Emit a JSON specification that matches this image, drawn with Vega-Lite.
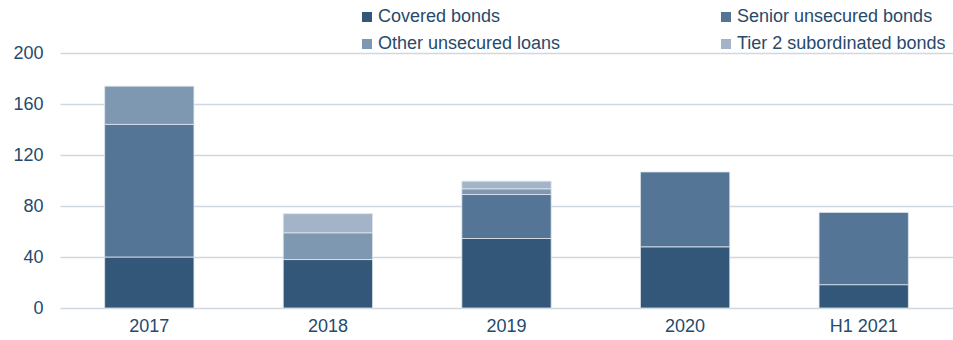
{
  "$schema": "https://vega.github.io/schema/vega-lite/v6.json",
  "width": 893,
  "height": 255,
  "autosize": {"type": "none"},
  "padding": {"left": 60, "top": 53, "right": 0, "bottom": 32},
  "background": "white",
  "config": {
    "view": {"stroke": null},
    "font": "Liberation Sans",
    "axis": {"labelFont": "Liberation Sans", "labelFontSize": 18, "labelColor": "#264a6b"},
    "legend": {"labelFont": "Liberation Sans", "labelFontSize": 18, "labelColor": "#264a6b"}
  },
  "data": {
    "values": [
      {"period": "2017", "type": "Covered bonds", "k": 1, "value": 40},
      {"period": "2017", "type": "Senior unsecured bonds", "k": 2, "value": 104},
      {"period": "2017", "type": "Other unsecured loans", "k": 3, "value": 30},
      {"period": "2018", "type": "Covered bonds", "k": 1, "value": 38},
      {"period": "2018", "type": "Other unsecured loans", "k": 3, "value": 21},
      {"period": "2018", "type": "Tier 2 subordinated bonds", "k": 4, "value": 15},
      {"period": "2019", "type": "Covered bonds", "k": 1, "value": 54.5},
      {"period": "2019", "type": "Senior unsecured bonds", "k": 2, "value": 34.5},
      {"period": "2019", "type": "Other unsecured loans", "k": 3, "value": 4.5},
      {"period": "2019", "type": "Tier 2 subordinated bonds", "k": 4, "value": 6},
      {"period": "2020", "type": "Covered bonds", "k": 1, "value": 48},
      {"period": "2020", "type": "Senior unsecured bonds", "k": 2, "value": 58.7},
      {"period": "H1 2021", "type": "Covered bonds", "k": 1, "value": 18.3},
      {"period": "H1 2021", "type": "Senior unsecured bonds", "k": 2, "value": 56.7}
    ]
  },
  "mark": {"type": "bar", "stroke": "#dfe6ee", "strokeWidth": 0.8},
  "encoding": {
    "x": {
      "field": "period", "type": "nominal", "title": null,
      "scale": {"paddingInner": 0.5, "paddingOuter": 0.25},
      "axis": {"labelAngle": 0, "domain": false, "ticks": false, "labelPadding": 9}
    },
    "y": {
      "field": "value", "type": "quantitative", "aggregate": "sum", "stack": "zero", "title": null,
      "scale": {"domain": [0, 200], "nice": false},
      "axis": {"values": [0, 40, 80, 120, 160, 200], "domain": false, "ticks": false, "labelPadding": 17,
               "gridColor": "#cfd7e0", "gridWidth": 1.5, "gridOpacity": 1}
    },
    "color": {
      "field": "type", "type": "nominal", "title": null,
      "scale": {
        "domain": ["Covered bonds", "Senior unsecured bonds", "Other unsecured loans", "Tier 2 subordinated bonds"],
        "range": ["#325778", "#557596", "#7f98b2", "#a3b4c8"]
      },
      "legend": {
        "orient": "none", "legendX": 298, "legendY": -45, "columns": 2, "direction": "horizontal",
        "columnPadding": 156, "rowPadding": 9, "symbolType": "square", "symbolSize": 100,
        "symbolStrokeWidth": 0, "labelOffset": 2, "padding": 0, "labelLimit": 400
      }
    },
    "order": {"field": "k", "type": "quantitative"}
  }
}
